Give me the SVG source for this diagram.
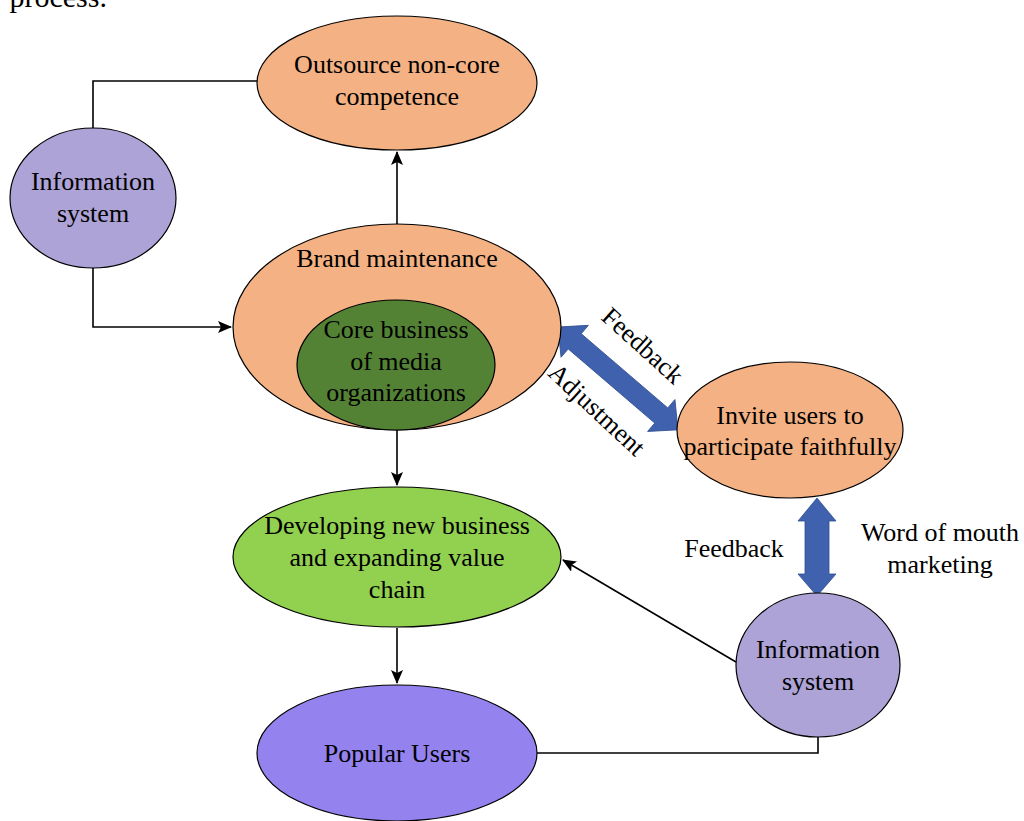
<svg xmlns="http://www.w3.org/2000/svg" width="1024" height="821" viewBox="0 0 1024 821" font-family="'Liberation Serif', 'Times New Roman', serif">
<defs>
<style>
text{font-family:'Liberation Serif','Times New Roman',serif;font-size:26px;fill:#000;text-anchor:middle}
.n{stroke:#000;stroke-width:1.2}
.c{fill:none;stroke:#000;stroke-width:1.6}
.blk{fill:#4062AE;stroke:#2F4F8F;stroke-width:0.8}
</style>
<marker id="ah" markerWidth="14" markerHeight="12" refX="13" refY="6" orient="auto" markerUnits="userSpaceOnUse" viewBox="0 0 14 12">
<path d="M0,0 L14,6 L0,12 L3,6 z" fill="#000"/>
</marker>
</defs>
<rect width="1024" height="821" fill="#fff"/>
<text x="-8" y="7" style="text-anchor:start;font-size:30px">r process.</text>
<g id="connectors">
<path class="c" d="M397,224 V152" marker-end="url(#ah)"/>
<path class="c" d="M93,128 V81 H257"/>
<path class="c" d="M93,268 V327 H231" marker-end="url(#ah)"/>
<path class="c" d="M397,430 V485" marker-end="url(#ah)"/>
<path class="c" d="M397,628 V683" marker-end="url(#ah)"/>
<path class="c" d="M736,662 L563,560" marker-end="url(#ah)"/>
<path class="c" d="M537,753 H818 V737"/>
<polygon class="blk" transform="translate(558,327) rotate(40.6)" points="0,0 22,-21 22,-10 136,-10 136,-21 158,0 136,21 136,10 22,10 22,21"/>
<polygon class="blk" points="817,498 836,521 829,521 829,574 836,574 817,596 798,574 805,574 805,521 798,521"/>
<text transform="translate(637,352) rotate(42)">Feedback</text>
<text transform="translate(591,416) rotate(43)">Adjustment</text>
<text x="734" y="557">Feedback</text>
<text x="940" y="541">Word of mouth</text>
<text x="940" y="573">marketing</text>
</g>
<g id="outsource">
<ellipse class="n" cx="397" cy="83" rx="140" ry="67" fill="#F4B183"/>
<text x="397" y="73">Outsource non-core</text>
<text x="397" y="105">competence</text>
</g>
<g id="info-left">
<ellipse class="n" cx="93" cy="198" rx="83" ry="70" fill="#ADA3D6"/>
<text x="93" y="190">Information</text>
<text x="93" y="222">system</text>
</g>
<g id="brand">
<ellipse class="n" cx="397" cy="327" rx="164" ry="103" fill="#F4B183"/>
<text x="397" y="267">Brand maintenance</text>
</g>
<g id="core">
<ellipse class="n" cx="396" cy="365" rx="99" ry="65" fill="#548235"/>
<text x="396" y="338">Core business</text>
<text x="396" y="370">of media</text>
<text x="396" y="401">organizations</text>
</g>
<g id="invite">
<ellipse class="n" cx="790" cy="430" rx="113" ry="68" fill="#F4B183"/>
<text x="790" y="424">Invite users to</text>
<text x="790" y="455">participate faithfully</text>
</g>
<g id="developing">
<ellipse class="n" cx="397" cy="557" rx="164" ry="70" fill="#92D050"/>
<text x="397" y="534">Developing new business</text>
<text x="397" y="566">and expanding value</text>
<text x="397" y="598">chain</text>
</g>
<g id="info-right">
<ellipse class="n" cx="818" cy="665" rx="82" ry="72" fill="#ADA3D6"/>
<text x="818" y="658">Information</text>
<text x="818" y="690">system</text>
</g>
<g id="popular">
<ellipse class="n" cx="397" cy="753" rx="140" ry="68" fill="#9483EE"/>
<text x="397" y="762">Popular Users</text>
</g>
</svg>
